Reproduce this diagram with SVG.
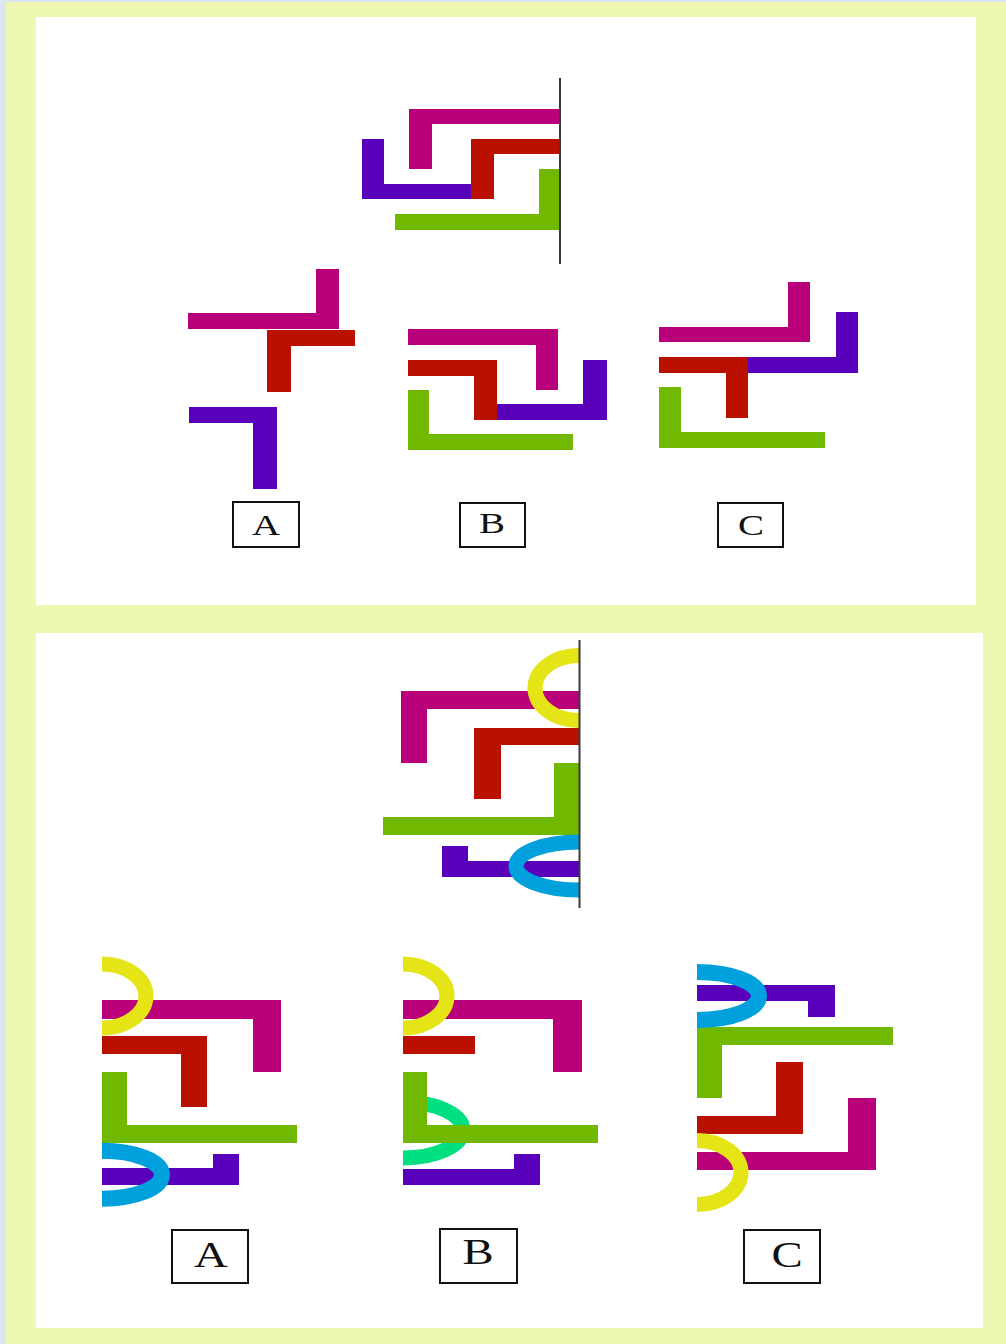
<svg xmlns="http://www.w3.org/2000/svg" width="1006" height="1344" viewBox="0 0 1006 1344">
<style>
.m{fill:#B9007A}.r{fill:#BA1000}.p{fill:#5800BA}.g{fill:#70B900}
.ring{fill:none;stroke-width:15}
.y{stroke:#E4E416}.b{stroke:#00A0DC}.t{stroke:#00E080}
.axis{stroke:#3a3a3a;stroke-width:2}
.box{fill:#fff;stroke:#111;stroke-width:2}
.lbl{font-family:"Liberation Serif",serif;fill:#111;text-anchor:middle}
</style>
<rect x="0" y="0" width="1006" height="1344" fill="#DCE5F2"/>
<rect x="6" y="2" width="1000" height="1342" fill="#EEF8B2"/>
<rect x="36" y="17" width="940" height="588" fill="#fff"/>
<rect x="36" y="633" width="947" height="695" fill="#fff"/>

<g id="top-figure">
<rect class="m" x="409" y="109" width="151" height="15"/><rect class="m" x="409" y="109" width="23" height="60"/>
<rect class="p" x="362" y="139" width="22" height="60"/><rect class="p" x="362" y="184" width="110" height="15"/>
<rect class="r" x="471" y="139" width="89" height="15"/><rect class="r" x="471" y="139" width="23" height="60"/>
<rect class="g" x="539" y="169" width="21" height="61"/><rect class="g" x="395" y="214" width="165" height="16"/>
<line class="axis" x1="560" y1="78" x2="560" y2="264"/>
</g>

<g id="top-option-a">
<rect class="m" x="316" y="269" width="23" height="60"/><rect class="m" x="188" y="313" width="151" height="16"/>
<rect class="r" x="267" y="330" width="88" height="16"/><rect class="r" x="267" y="330" width="24" height="62"/>
<rect class="p" x="189" y="407" width="88" height="16"/><rect class="p" x="253" y="407" width="24" height="82"/>
</g>
<g id="top-option-b">
<rect class="m" x="408" y="329" width="150" height="16"/><rect class="m" x="536" y="329" width="22" height="61"/>
<rect class="r" x="408" y="360" width="89" height="16"/><rect class="r" x="474" y="360" width="23" height="60"/>
<rect class="p" x="583" y="360" width="24" height="60"/><rect class="p" x="497" y="404" width="110" height="16"/>
<rect class="g" x="408" y="390" width="21" height="60"/><rect class="g" x="408" y="434" width="165" height="16"/>
</g>
<g id="top-option-c">
<rect class="m" x="788" y="282" width="22" height="60"/><rect class="m" x="659" y="327" width="151" height="15"/>
<rect class="p" x="836" y="312" width="22" height="61"/><rect class="p" x="748" y="357" width="110" height="16"/>
<rect class="r" x="659" y="357" width="89" height="16"/><rect class="r" x="726" y="357" width="22" height="61"/>
<rect class="g" x="659" y="387" width="22" height="61"/><rect class="g" x="659" y="432" width="166" height="16"/>
</g>
<g id="top-label-a"><rect class="box" x="233" y="502" width="66" height="45"/><text class="lbl" font-size="30" transform="translate(266,535) scale(1.3,1)">A</text></g>
<g id="top-label-b"><rect class="box" x="460" y="503" width="65" height="44"/><text class="lbl" font-size="30" transform="translate(492,533) scale(1.3,1)">B</text></g>
<g id="top-label-c"><rect class="box" x="718" y="503" width="65" height="44"/><text class="lbl" font-size="30" transform="translate(751,535) scale(1.3,1)">C</text></g>

<g id="bottom-figure">
<rect class="m" x="401" y="691" width="178" height="18"/><rect class="m" x="401" y="691" width="26" height="72"/>
<rect class="r" x="474" y="728" width="105" height="17"/><rect class="r" x="474" y="728" width="27" height="71"/>
<rect class="g" x="554" y="763" width="25" height="72"/><rect class="g" x="383" y="817" width="196" height="18"/>
<rect class="p" x="442" y="846" width="26" height="31"/><rect class="p" x="442" y="861" width="137" height="16"/>
<path class="ring y" d="M579 655.5 A44 32.5 0 0 0 579 720.5"/>
<path class="ring b" d="M579 842 A63 24 0 0 0 579 890"/>
<line class="axis" x1="579.5" y1="640" x2="579.5" y2="908"/>
</g>

<g id="bottom-option-a">
<rect class="m" x="102" y="1000" width="179" height="19"/><rect class="m" x="253" y="1000" width="28" height="72"/>
<rect class="r" x="102" y="1036" width="105" height="18"/><rect class="r" x="181" y="1036" width="26" height="71"/>
<rect class="g" x="102" y="1072" width="25" height="71"/><rect class="g" x="102" y="1125" width="195" height="18"/>
<rect class="p" x="213" y="1154" width="26" height="31"/><rect class="p" x="102" y="1168" width="137" height="17"/>
<path class="ring y" d="M102 964 A44 32 0 0 1 102 1028"/>
<path class="ring b" style="stroke-width:16" d="M102 1150.7 A60 24 0 0 1 102 1198.7"/>
</g>
<g id="bottom-option-b">
<path class="ring t" d="M403 1102 A60 28 0 0 1 403 1158"/>
<rect class="m" x="403" y="1000" width="179" height="19"/><rect class="m" x="553" y="1000" width="29" height="72"/>
<rect class="r" x="403" y="1036" width="72" height="18"/>
<rect class="g" x="403" y="1072" width="24" height="71"/><rect class="g" x="403" y="1125" width="195" height="18"/>
<rect class="p" x="514" y="1154" width="26" height="31"/><rect class="p" x="403" y="1169" width="137" height="16"/>
<path class="ring y" d="M403 964 A44 32 0 0 1 403 1028"/>
</g>
<g id="bottom-option-c">
<rect class="p" x="697" y="985" width="138" height="16"/><rect class="p" x="808" y="985" width="27" height="32"/>
<rect class="g" x="697" y="1027" width="196" height="18"/><rect class="g" x="697" y="1027" width="25" height="71"/>
<rect class="r" x="776" y="1062" width="27" height="72"/><rect class="r" x="697" y="1116" width="106" height="18"/>
<rect class="m" x="848" y="1098" width="28" height="72"/><rect class="m" x="697" y="1152" width="179" height="18"/>
<path class="ring b" style="stroke-width:16" d="M697 972 A62 24 0 0 1 697 1020"/>
<path class="ring y" d="M697 1140.5 A44 32 0 0 1 697 1204.5"/>
</g>
<g id="bottom-label-a"><rect class="box" x="172" y="1230" width="76" height="53"/><text class="lbl" font-size="36" transform="translate(211,1267) scale(1.3,1)">A</text></g>
<g id="bottom-label-b"><rect class="box" x="440" y="1229" width="77" height="54"/><text class="lbl" font-size="36" transform="translate(478,1264) scale(1.3,1)">B</text></g>
<g id="bottom-label-c"><rect class="box" x="744" y="1230" width="76" height="53"/><text class="lbl" font-size="36" transform="translate(787,1267) scale(1.3,1)">C</text></g>
</svg>
